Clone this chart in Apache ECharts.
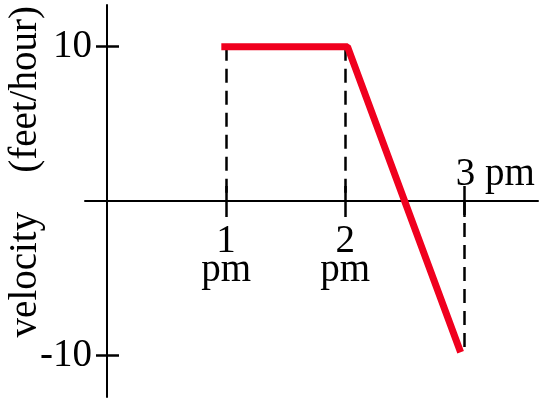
<!DOCTYPE html>
<html>
<head>
<meta charset="utf-8">
<script src="https://cdn.jsdelivr.net/npm/echarts@6/dist/echarts.min.js"></script>
<style>
  html, body { margin: 0; padding: 0; background: #fff; }
  #chart { width: 550px; height: 401px; }
</style>
</head>
<body>
<div id="chart"></div>
<script>
// velocity vs. time (hours after noon)
const timeX = [0.96, 2.02, 2.97]
const velocity = [10, 10, -9.8]

// dashed drop lines: x, from, to
const dropX = [1, 2, 3]
const dropFrom = [10, 10, 0]
const dropTo = [0, 0, -9.8]

const tickHours = [1, 2, 3]
const bottomLabels = [1, 2]
const topLabels = [3]
const velTicks = [-10, 10]

const font = 'Liberation Serif, Times New Roman, serif'
const black = '#000'

// axes cross at zero: grid spans x 85..538, y 5..397, zero at (107, 201)
const chart = echarts.init(document.getElementById('chart'))

const xBase = {
  type: 'value',
  min: -0.185,
  max: 3.62,
  splitLine: { show: false },
  axisLine: { onZero: false, lineStyle: { color: black, width: 2 } },
}
const yBase = {
  type: 'value',
  min: -12.7,
  max: 12.7,
  splitLine: { show: false },
  axisLine: { onZero: false, lineStyle: { color: black, width: 2 } },
}

const option = {
  animation: false,
  grid: { left: 85, right: 12, top: 5, bottom: 4, containLabel: false, outerBoundsMode: 'none' },
  xAxis: [
    Object.assign({}, xBase, {
      position: 'bottom',
      offset: -196,
      axisTick: { customValues: tickHours, length: 16, lineStyle: { color: black, width: 2.5 } },
      axisLabel: {
        customValues: bottomLabels,
        formatter: v => v + '\npm',
        color: black, fontFamily: font, fontSize: 39, lineHeight: 29, margin: 26,
      },
    }),
    Object.assign({}, xBase, {
      position: 'top',
      offset: -196,
      axisLine: { show: false, onZero: false },
      axisTick: { customValues: tickHours, length: 15, lineStyle: { color: black, width: 2.5 } },
      axisLabel: {
        customValues: topLabels,
        formatter: v => v + ' pm',
        color: black, fontFamily: font, fontSize: 39, lineHeight: 28, margin: 12,
        padding: [0, 0, 0, 62],
      },
    }),
  ],
  yAxis: [
    Object.assign({}, yBase, {
      position: 'left',
      offset: -22,
      name: '      velocity    (feet/hour)',
      nameLocation: 'middle',
      nameRotate: 90,
      nameGap: 62,
      nameMoveOverlap: false,
      nameTextStyle: { color: black, fontFamily: font, fontSize: 39 },
      axisTick: { customValues: velTicks, length: 11, lineStyle: { color: black, width: 2.5 } },
      axisLabel: {
        customValues: velTicks,
        color: black, fontFamily: font, fontSize: 39, margin: 15,
      },
    }),
    Object.assign({}, yBase, {
      position: 'right',
      offset: -431,
      axisLine: { show: false, onZero: false },
      axisTick: { customValues: velTicks, length: 12, lineStyle: { color: black, width: 2.5 } },
      axisLabel: { show: false },
    }),
  ],
  series: [
    {
      type: 'line',
      xAxisIndex: 0,
      yAxisIndex: 0,
      data: timeX.map((t, i) => [t, velocity[i]]),
      symbol: 'none',
      lineStyle: { color: '#f0001e', width: 7 },
      z: 5,
      markLine: {
        silent: true,
        symbol: ['none', 'none'],
        label: { show: false },
        lineStyle: { color: black, width: 2.5, type: [14, 8] },
        data: dropX.map((x, i) => [{ coord: [x, dropFrom[i]] }, { coord: [x, dropTo[i]] }]),
      },
    },
  ],
}

chart.setOption(option)
</script>
</body>
</html>
